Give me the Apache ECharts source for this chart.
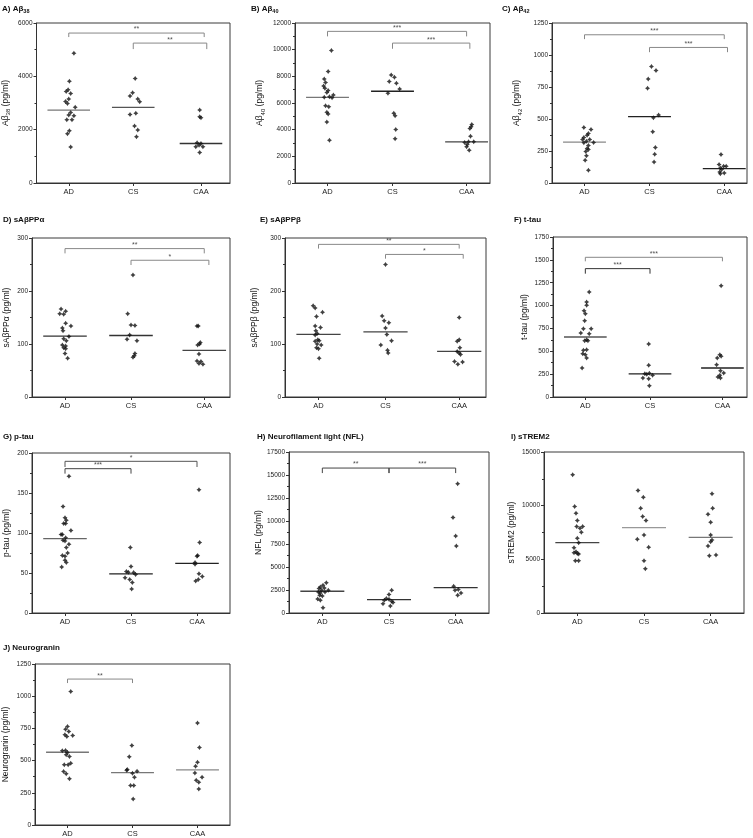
<!DOCTYPE html>
<html><head><meta charset="utf-8">
<script src="https://cdn.jsdelivr.net/npm/echarts@6/dist/echarts.min.js"></script>
<style>html,body{margin:0;padding:0;background:#fff}#c{width:753px;height:838px}</style>
</head><body><div id="c"></div>
<script>
const groups = ['AD', 'CS', 'CAA'];

// A) Aβ38
const ab38_AD = [4870,3820,3500,3430,3360,3150,3060,2980,2840,2640,2550,2520,2370,2370,1960,1850,1350];
const ab38_AD_jit = [0.08,0.01,-0.01,-0.04,0.03,0,-0.05,-0.02,0.10,0.03,0,0.08,-0.03,0.05,0.01,-0.02,0.03];
const ab38_CS = [3916,3389,3263,3150,3050,2611,2573,2134,1983,1732];
const ab38_CS_jit = [0.03,-0.01,-0.05,0.07,0.10,0.04,-0.05,0.02,0.07,0.05];
const ab38_CAA = [2736,2485,2448,1506,1481,1418,1356,1356,1142];
const ab38_CAA_jit = [-0.02,-0.02,0,-0.06,0,-0.03,-0.08,0.03,-0.02];
const ab38_median = [2736,2837,1481];

// B) Aβ40
const ab40_AD = [9942,8360,7808,7532,7281,7105,6930,6779,6603,6477,6427,6402,5800,5724,5298,5172,4570,3214];
const ab40_AD_jit = [0.06,0.01,-0.05,-0.03,-0.06,-0.04,0.01,-0.01,0.09,0.03,-0.05,0.07,-0.03,0.02,-0.01,0.01,-0.01,0.03];
const ab40_CS = [8109,7933,7607,7482,7055,6729,5222,5047,4017,3314];
const ab40_CS_jit = [-0.02,0.03,-0.05,0.06,0.11,-0.07,0.02,0.04,0.05,0.04];
const ab40_CAA = [4394,4218,4093,3515,3088,3038,3088,2887,2711,2460];
const ab40_CAA_jit = [0.08,0.07,0.05,0.06,0.03,-0.03,0.11,0.01,0,0.04];
const ab40_median = [6427,6880,3088];

// C) Aβ42
const ab42_AD = [434,418,387,374,356,340,340,327,316,314,293,269,261,246,212,178,99];
const ab42_AD_jit = [-0.01,0.1,0.06,0.04,-0.01,-0.03,0.08,0.03,0.14,-0.01,0.06,0.04,0.06,0.02,0.03,0.01,0.06];
const ab42_CS = [910,879,813,740,531,510,400,277,225,165];
const ab42_CS_jit = [0.03,0.1,-0.02,-0.03,0.14,0.06,0.05,0.09,0.08,0.07];
const ab42_CAA = [222,144,131,131,118,105,86,73,78];
const ab42_CAA_jit = [-0.05,-0.08,-0.01,0.03,-0.06,-0.04,-0.07,-0.06,0];
const ab42_median = [319,518,112];

// D) sAβPPα
const sappa_AD = [166,162,157,156,139,134,130,125,114,110,106,98,96,93,91,82,73];
const sappa_AD_jit = [-0.06,0.01,-0.08,-0.02,0.01,0.09,-0.04,-0.03,0.06,-0.02,0.02,-0.04,0.01,-0.02,0.01,0,0.04];
const sappa_CS = [230,157,136,135,117,109,106,82,78,75];
const sappa_CS_jit = [0.03,-0.05,0,0.06,-0.02,-0.06,0.09,0.06,0.05,0.03];
const sappa_CAA = [134,134,103,100,98,81,68,67,63,62];
const sappa_CAA_jit = [-0.11,-0.09,-0.06,-0.07,-0.1,-0.08,-0.11,-0.05,-0.08,-0.02];
const sappa_median = [115,116,88];

// E) sAβPPβ
const sappb_AD = [172,168,160,152,134,131,125,120,117,108,105,106,100,98,93,91,73];
const sappb_AD_jit = [-0.08,-0.05,0.06,-0.03,-0.05,0.03,-0.04,-0.02,-0.05,-0.01,-0.05,0.01,-0.02,0.04,-0.03,0,0.01];
const sappb_CS = [250,153,144,140,130,118,106,98,88,83];
const sappb_CS_jit = [0,-0.05,-0.02,0.05,0,0.02,0.09,-0.07,0.03,0.04];
const sappb_CAA = [150,108,105,93,86,83,80,67,66,62];
const sappb_CAA_jit = [0,0,-0.03,0.01,-0.03,0,0.02,-0.07,0.05,-0.02];
const sappb_median = [118,123,86];

// F) t-tau
const ttau_AD = [1148,1039,1003,944,911,835,747,747,700,693,627,616,616,518,510,474,463,427,317];
const ttau_AD_jit = [0.06,0.02,0.02,-0.02,0,-0.01,0.09,-0.03,-0.07,0.06,0.02,-0.01,0.04,0.02,-0.03,-0.04,0,0.02,-0.05];
const ttau_CS = [580,346,259,255,250,237,208,200,124];
const ttau_CS_jit = [-0.02,-0.02,-0.01,-0.08,-0.05,0.04,-0.11,-0.02,-0.01];
const ttau_CAA = [1218,463,445,427,354,288,263,237,219,208];
const ttau_CAA_jit = [-0.02,-0.04,-0.02,-0.08,-0.09,-0.03,0.02,-0.04,-0.07,-0.03];
const ttau_median = [656,252,317];

// G) p-tau
const ptau_AD = [171,133,119,116,112,112,103,98,98,94,91,90,86,82,75,72,71,66,63,57.5];
const ptau_AD_jit = [0.06,-0.03,0,0.02,-0.02,0.01,0.09,-0.06,-0.04,0.01,-0.03,0,0.06,0.02,0.04,-0.04,0,0,0.02,-0.05];
const ptau_CS = [82,58,52,51,50.5,48,44,42,38,30];
const ptau_CS_jit = [-0.01,0,-0.07,-0.04,0.04,0.07,-0.09,-0.02,0.02,0.01];
const ptau_CAA = [154,88,72,71,63,61,49,45.5,42,40];
const ptau_CAA_jit = [0.03,0.04,0.01,0,-0.03,-0.03,0.03,0.08,0.02,-0.02];
const ptau_median = [93,49,62];

// H) NFL
const nfl_AD = [3275,3020,2838,2729,2656,2474,2474,2292,2292,2183,1928,1856,1528,1383,582];
const nfl_AD_jit = [0.06,0.01,-0.03,0.03,-0.05,-0.01,0.09,-0.06,0.04,-0.03,-0.04,0,-0.07,-0.03,0.01];
const nfl_CS = [2474,2001,1565,1492,1383,1274,1128,1019,764];
const nfl_CS_jit = [0.04,0,-0.04,0,-0.07,0.04,0.06,-0.09,0.02];
const nfl_CAA = [14044,10370,8369,7277,2911,2547,2474,2183,1928];
const nfl_CAA_jit = [0.03,-0.04,0,0.01,-0.03,0.04,-0.01,0.08,0.03];
const nfl_median = [2365,1456,2765];

// I) sTREM2
const strem2_AD = [12885,9922,9298,8611,8050,7894,8050,7520,6958,6552,6084,5709,5615,5553,5490,4866,4866];
const strem2_AD_jit = [-0.07,-0.04,-0.02,0,-0.01,0.04,0.08,0.06,0,0.02,-0.05,-0.02,-0.05,0,0.02,-0.03,0.02];
const strem2_CS = [11416,10792,9765,8984,8611,7270,6864,6115,4866,4117];
const strem2_CS_jit = [-0.09,-0.01,-0.05,-0.02,0.03,0,-0.1,0.07,0,0.02];
const strem2_CAA = [11104,9765,9204,8455,7270,6801,6645,6240,5335,5397];
const strem2_CAA_jit = [0.02,0.03,-0.04,0,0,0.02,0,-0.04,-0.02,0.08];
const strem2_median = [6552,7956,7051];

// J) Neurogranin
const ng_AD = [1037,765,744,726,700,695,687,578,576,563,545,532,480,467,467,415,397,360];
const ng_AD_jit = [0.05,0,-0.03,0.02,-0.04,0.08,-0.01,-0.03,-0.08,0,-0.02,0.03,0.05,-0.05,0.01,-0.06,-0.02,0.03];
const ng_CS = [617,529,430,425,417,402,371,306,306,202];
const ng_CS_jit = [-0.01,-0.05,-0.08,-0.09,0.07,0,0.03,-0.03,0.02,0.01];
const ng_CAA = [791,601,488,457,404,371,348,332,280];
const ng_CAA_jit = [0,0.03,0,-0.03,-0.04,0.07,-0.02,0.02,0.02];
const ng_median = [565,407,428];

// significance brackets: [fromGroup, toGroup, topValue, endValue, label]
const ab38_sig = [[0,2,5623,5473,'**'],[1,2,5247,5021,'**']];
const ab40_sig = [[0,2,11373,10996,'***'],[1,2,10494,10068,'***']];
const ab42_sig = [[0,2,1158,1124,'***'],[1,2,1059,1022,'***']];
const sappa_sig = [[0,2,280,271,'**'],[1,2,258,249,'*']];
const sappb_sig = [[0,2,288,280,'**'],[1,2,269,261,'*']];
const ttau_sig = [[0,2,1528,1484,'***'],[0,1,1404,1349,'***']];
const ptau_sig = [[0,2,189.6,182.5,'*'],[0,1,180.4,174.2,'***']];
const nfl_sig = [[0,1,15755,15209,'**'],[1,2,15755,15209,'***']];
const ng_sig = [[0,1,1133,1102,'**']];

const panels = [
  {title:'A) Aβ{s|38}', yname:'Aβ{s|38} (pg/ml)', g:[32,23,198,160], tl:[2,3], gap:25, max:6000, iv:2000, caa:3.05,
   d:[[ab38_AD,ab38_AD_jit],[ab38_CS,ab38_CS_jit],[ab38_CAA,ab38_CAA_jit]], med:ab38_median, mc:['#777','#555','#333'],
   sig:ab38_sig, sc:['#888','#888'], sdx:[0.05,0.09]},
  {title:'B) Aβ{s|40}', yname:'Aβ{s|40} (pg/ml)', g:[295,23,195,160], tl:[251,3], gap:29, max:12000, iv:2000, caa:3.14,
   d:[[ab40_AD,ab40_AD_jit],[ab40_CS,ab40_CS_jit],[ab40_CAA,ab40_CAA_jit]], med:ab40_median, mc:['#777','#222','#444'],
   sig:ab40_sig, sc:['#888','#888'], sdx:[0,0.05]},
  {title:'C) Aβ{s|42}', yname:'Aβ{s|42} (pg/ml)', g:[552,23,195,160], tl:[502,3], gap:29, max:1250, iv:250, caa:3.15,
   d:[[ab42_AD,ab42_AD_jit],[ab42_CS,ab42_CS_jit],[ab42_CAA,ab42_CAA_jit]], med:ab42_median, mc:['#888','#222','#222'],
   sig:ab42_sig, sc:['#888','#888'], sdx:[0,0.05]},
  {title:'D) sAβPPα', yname:'sAβPPα (pg/ml)', g:[32,238,198,159], tl:[3,216], gap:21, max:300, iv:100, caa:3.11,
   d:[[sappa_AD,sappa_AD_jit],[sappa_CS,sappa_CS_jit],[sappa_CAA,sappa_CAA_jit]], med:sappa_median, mc:['#333','#333','#444'],
   sig:sappa_sig, sc:['#888','#888'], sdx:[0,0.07]},
  {title:'E) sAβPPβ', yname:'sAβPPβ (pg/ml)', g:[285,238,201,159], tl:[260,216], gap:26, max:300, iv:100, caa:3.1,
   d:[[sappb_AD,sappb_AD_jit],[sappb_CS,sappb_CS_jit],[sappb_CAA,sappb_CAA_jit]], med:sappb_median, mc:['#444','#444','#444'],
   sig:sappb_sig, sc:['#888','#888'], sdx:[0,0.06]},
  {title:'F) t-tau', yname:'t-tau (pg/ml)', g:[553,237,194,160], tl:[514,216], gap:24, max:1750, iv:250, caa:3.12,
   d:[[ttau_AD,ttau_AD_jit],[ttau_CS,ttau_CS_jit],[ttau_CAA,ttau_CAA_jit]], med:ttau_median, mc:['#555','#222','#222'],
   sig:ttau_sig, sc:['#888','#333'], sdx:[0,0]},
  {title:'G) p-tau', yname:'p-tau (pg/ml)', g:[32,453,198,160], tl:[3,433], gap:21, max:200, iv:50, caa:3,
   d:[[ptau_AD,ptau_AD_jit],[ptau_CS,ptau_CS_jit],[ptau_CAA,ptau_CAA_jit]], med:ptau_median, mc:['#666','#222','#222'],
   sig:ptau_sig, sc:['#555','#444'], sdx:[0,0]},
  {title:'H) Neurofilament light (NFL)', yname:'NFL (pg/ml)', g:[289,452,200,161], tl:[257,433], gap:26, max:17500, iv:2500, caa:3,
   d:[[nfl_AD,nfl_AD_jit],[nfl_CS,nfl_CS_jit],[nfl_CAA,nfl_CAA_jit]], med:nfl_median, mc:['#444','#333','#333'],
   sig:nfl_sig, sc:['#444','#444'], sdx:[0,0]},
  {title:'I) sTREM2', yname:'sTREM2 (pg/ml)', g:[544,452,200,161], tl:[511,433], gap:28, max:15000, iv:5000, caa:3,
   d:[[strem2_AD,strem2_AD_jit],[strem2_CS,strem2_CS_jit],[strem2_CAA,strem2_CAA_jit]], med:strem2_median, mc:['#444','#999','#777'],
   sig:[], sc:[], sdx:[]},
  {title:'J) Neurogranin', yname:'Neurogranin (pg/ml)', g:[32,664,198,161], tl:[3,644], gap:25, max:1250, iv:250, caa:3,
   d:[[ng_AD,ng_AD_jit],[ng_CS,ng_CS_jit],[ng_CAA,ng_CAA_jit]], med:ng_median, mc:['#777','#777','#888'],
   sig:ng_sig, sc:['#888'], sdx:[0]}
];

const FONT = '"Liberation Sans", Arial, sans-serif';
const star = 'path://M0,-5 L2,-2 L5,0 L2,2 L0,5 L-2,2 L-5,0 L-2,-2 Z';
const option = {animation:false, backgroundColor:'#fff', textStyle:{fontFamily:FONT},
  title:[], grid:[], xAxis:[], yAxis:[], series:[]};

panels.forEach((p, i) => {
  const pos = [1, 2, p.caa];
  option.title.push({text:p.title, left:p.tl[0], top:p.tl[1], padding:0,
    textStyle:{fontSize:8, fontWeight:'bold', color:'#111', fontFamily:FONT,
      rich:{s:{fontSize:5.5, fontWeight:'bold', verticalAlign:'bottom', lineHeight:11, padding:[3,0,0,0]}}}});
  option.grid.push({left:p.g[0], top:p.g[1], width:p.g[2], height:p.g[3], show:true,
    borderColor:'#3a3a3a', borderWidth:1, backgroundColor:'transparent'});
  option.xAxis.push({type:'value', gridIndex:i, min:0.5, max:3.5,
    axisLine:{show:true, onZero:false, lineStyle:{color:'#333', width:1}},
    axisTick:{show:true, customValues:pos, length:3, lineStyle:{color:'#333'}},
    axisLabel:{customValues:pos, fontSize:7.5, color:'#222', margin:5, fontFamily:FONT,
      formatter:(v)=>{let b=0; pos.forEach((q,k)=>{ if (Math.abs(q-v)<Math.abs(pos[b]-v)) b=k; }); return groups[b];}},
    splitLine:{show:false}});
  option.yAxis.push({type:'value', gridIndex:i, min:0, max:p.max, interval:p.iv,
    axisLine:{show:true, lineStyle:{color:'#333', width:1}},
    axisTick:{show:true, length:3, lineStyle:{color:'#333'}},
    minorTick:{show:true, splitNumber:2, length:2, lineStyle:{color:'#333'}},
    axisLabel:{fontSize:6.5, color:'#222', margin:4, fontFamily:FONT, formatter:(v)=>String(v)},
    splitLine:{show:false},
    name:p.yname, nameLocation:'middle', nameGap:p.gap,
    nameTextStyle:{fontSize:8.5, color:'#111', fontFamily:FONT,
      rich:{s:{fontSize:6, verticalAlign:'bottom', lineHeight:12, padding:[3,0,0,0]}}}});

  const pts = [];
  p.d.forEach((gd, gi) => { gd[0].forEach((v, k) => pts.push([pos[gi] + gd[1][k], v])); });
  option.series.push({type:'scatter', xAxisIndex:i, yAxisIndex:i, data:pts, symbol:star, symbolSize:5,
    itemStyle:{color:'#111'}, silent:true, z:5});

  p.med.forEach((m, gi) => {
    option.series.push({type:'line', xAxisIndex:i, yAxisIndex:i, data:[[pos[gi]-0.33, m],[pos[gi]+0.33, m]],
      showSymbol:false, symbol:'none', lineStyle:{color:p.mc[gi], width:1.3}, silent:true, z:4});
  });

  p.sig.forEach((s, si) => {
    const x1 = pos[s[0]], x2 = pos[s[1]] + p.sdx[si];
    option.series.push({type:'line', xAxisIndex:i, yAxisIndex:i,
      data:[[x1, s[3]],[x1, s[2]],[x2, s[2]],[x2, s[3]]],
      showSymbol:false, symbol:'none', lineStyle:{color:p.sc[si], width:1}, silent:true, z:3});
    option.series.push({type:'scatter', xAxisIndex:i, yAxisIndex:i, data:[[(x1+x2)/2, s[2]]],
      symbolSize:0, silent:true,
      label:{show:true, position:'top', distance:0, formatter:s[4], fontSize:7, color:'#222', fontFamily:FONT}});
  });
});

const chart = echarts.init(document.getElementById('c'), null, {renderer:'canvas'});
chart.setOption(option);
</script></body></html>
